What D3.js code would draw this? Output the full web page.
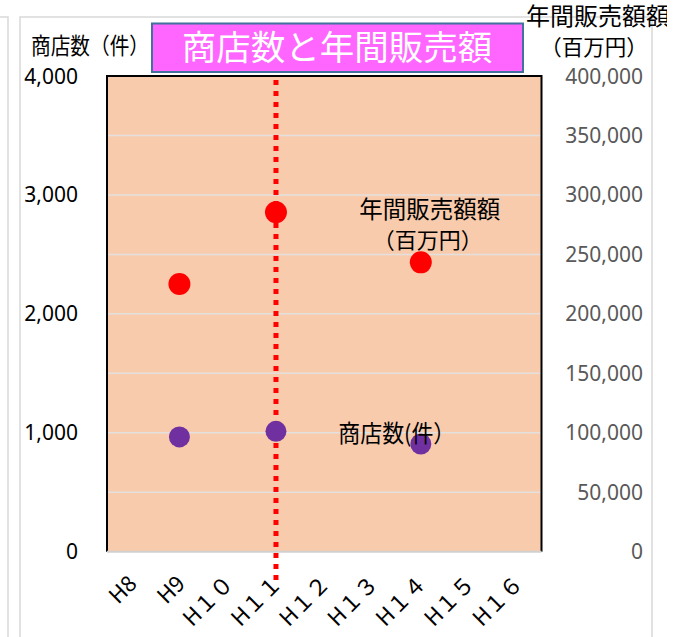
<!DOCTYPE html>
<html>
<head>
<meta charset="utf-8">
<script src="https://cdn.jsdelivr.net/npm/d3@7"></script>
<style>
  body { margin: 0; background: #fff; }
  text { font-family: "Noto Sans CJK JP", "Noto Sans", sans-serif; }
  .num { font-family: "Noto Sans", sans-serif; }
  .jp { font-weight: 400; }
</style>
</head>
<body>
<div class="chart"></div>
<script>
// data
var categories = ['H8', 'H9', 'H１０', 'H１１', 'H１２', 'H１３', 'H１４', 'H１５', 'H１６'];
var pointYears = ['H9', 'H１１', 'H１４'];
var storeCounts = [965, 1012, 906];          // 商店数(件)
var salesValues = [225100, 285400, 243300];  // 年間販売額(百万円)
var leftTicks = [0, 1000, 2000, 3000, 4000];
var rightTicks = [0, 50000, 100000, 150000, 200000, 250000, 300000, 350000, 400000];
var markerYear = 'H１１';

var W = 684, H = 637;
var plot = {left: 107, right: 541.5, top: 76, bottom: 551.7};

var svg = d3.select('.chart')
  .append('svg')
  .attr('width', W)
  .attr('height', H);

// outer chart frames
svg.append('path')
  .attr('d', 'M0,17H8V' + H)
  .attr('fill', 'none')
  .attr('stroke', '#d9d9d9')
  .attr('stroke-width', 1.5);
svg.append('rect')
  .attr('x', 20).attr('y', 17)
  .attr('width', 632).attr('height', H)
  .attr('fill', '#fff')
  .attr('stroke', '#d9d9d9')
  .attr('stroke-width', 1.5);

var xScale = d3.scaleBand()
  .domain(categories)
  .range([plot.left, plot.right]);

var yLeft = d3.scaleLinear()
  .domain([0, 4000])
  .range([plot.bottom, plot.top]);

var yRight = d3.scaleLinear()
  .domain([0, 400000])
  .range([plot.bottom, plot.top]);

var cx = (c) => xScale(c) + xScale.bandwidth() / 2;

// plot background
svg.append('rect')
  .attr('x', plot.left).attr('y', plot.top)
  .attr('width', plot.right - plot.left)
  .attr('height', plot.bottom - plot.top)
  .attr('fill', '#f8cbad');

// gridlines
svg.append('g')
  .selectAll('line')
  .data(rightTicks.slice(1, -1))
  .enter()
  .append('line')
  .attr('x1', plot.left).attr('x2', plot.right)
  .attr('y1', (d) => yRight(d)).attr('y2', (d) => yRight(d))
  .attr('stroke', '#e4e0de')
  .attr('stroke-width', 1.5);

// plot border (top, left, right black; bottom gray axis)
svg.append('path')
  .attr('d', 'M' + plot.left + ',' + plot.bottom + 'V' + plot.top + 'H' + plot.right + 'V' + plot.bottom)
  .attr('fill', 'none')
  .attr('stroke', '#000')
  .attr('stroke-width', 2);
svg.append('line')
  .attr('x1', plot.left).attr('x2', plot.right)
  .attr('y1', plot.bottom).attr('y2', plot.bottom)
  .attr('stroke', '#d0d0d0')
  .attr('stroke-width', 2);

// left axis labels
svg.append('g')
  .selectAll('text')
  .data(leftTicks)
  .enter()
  .append('text')
  .attr('class', 'num')
  .attr('x', 78)
  .attr('y', (d) => yLeft(d))
  .attr('dy', '0.36em')
  .attr('text-anchor', 'end')
  .attr('font-size', 21)
  .attr('fill', '#000')
  .text((d) => d3.format(',')(d));

// right axis labels
svg.append('g')
  .selectAll('text')
  .data(rightTicks)
  .enter()
  .append('text')
  .attr('class', 'num')
  .attr('x', 643)
  .attr('y', (d) => yRight(d))
  .attr('dy', '0.36em')
  .attr('text-anchor', 'end')
  .attr('font-size', 21)
  .attr('fill', '#595959')
  .text((d) => d3.format(',')(d));

// x labels, rotated
svg.append('g')
  .selectAll('text')
  .data(categories)
  .enter()
  .append('text')
  .attr('transform', (d) => 'translate(' + (cx(d) + 7) + ',' + 585 + ') rotate(-45)')
  .attr('text-anchor', 'end')
  .attr('font-size', 22)
  .attr('fill', '#000')
  .text((d) => d);

// dotted marker line
svg.append('line')
  .attr('x1', cx(markerYear)).attr('x2', cx(markerYear))
  .attr('y1', yLeft(4000) + 4).attr('y2', yLeft(0) + 32)
  .attr('stroke', '#ff0000')
  .attr('stroke-width', 5)
  .attr('stroke-dasharray', '5,6');

// points
svg.append('g')
  .selectAll('circle')
  .data(pointYears)
  .enter()
  .append('circle')
  .attr('cx', (d) => cx(d))
  .attr('cy', (d, i) => yRight(salesValues[i]))
  .attr('r', 11)
  .attr('fill', '#ff0000');

svg.append('g')
  .selectAll('circle')
  .data(pointYears)
  .enter()
  .append('circle')
  .attr('cx', (d) => cx(d))
  .attr('cy', (d, i) => yLeft(storeCounts[i]))
  .attr('r', 10.5)
  .attr('fill', '#7030a0');

// series labels
var last = pointYears.length - 1;
svg.append('text')
  .attr('class', 'jp')
  .attr('x', cx(pointYears[last]) + 9)
  .attr('y', yRight(salesValues[last]) - 53)
  .attr('dy', '0.35em')
  .attr('text-anchor', 'middle')
  .attr('font-size', 23.5)
  .text('年間販売額額');
svg.append('text')
  .attr('class', 'jp')
  .attr('x', cx(pointYears[last]) + 7)
  .attr('y', yRight(salesValues[last]) - 22)
  .attr('dy', '0.35em')
  .attr('text-anchor', 'middle')
  .attr('font-size', 22)
  .text('（百万円）');
svg.append('text')
  .attr('class', 'jp')
  .attr('x', cx(pointYears[last]) - 24)
  .attr('y', yLeft(storeCounts[last]) - 10)
  .attr('dy', '0.35em')
  .attr('text-anchor', 'middle')
  .attr('font-size', 23.5)
  .attr('textLength', 117)
  .attr('lengthAdjust', 'spacingAndGlyphs')
  .text('商店数(件）');

// axis titles
svg.append('text')
  .attr('class', 'jp')
  .attr('x', 31).attr('y', 46)
  .attr('dy', '0.35em')
  .attr('font-size', 22.5)
  .attr('textLength', 118)
  .attr('lengthAdjust', 'spacingAndGlyphs')
  .text('商店数（件）');

svg.append('clipPath')
  .attr('id', 'clipR')
  .append('rect')
  .attr('x', 500).attr('y', 0).attr('width', 167).attr('height', 40);
svg.append('text')
  .attr('class', 'jp')
  .attr('x', 526).attr('y', 17)
  .attr('dy', '0.35em')
  .attr('font-size', 24)
  .attr('clip-path', 'url(#clipR)')
  .text('年間販売額額');
svg.append('text')
  .attr('class', 'jp')
  .attr('x', 594).attr('y', 47)
  .attr('dy', '0.35em')
  .attr('text-anchor', 'middle')
  .attr('font-size', 21.5)
  .text('（百万円）');

// title box
svg.append('rect')
  .attr('x', 152).attr('y', 23.5)
  .attr('width', 371).attr('height', 48.5)
  .attr('fill', '#ff66ff')
  .attr('stroke', '#41719c')
  .attr('stroke-width', 2);
svg.append('text')
  .attr('x', 337).attr('y', 48)
  .attr('dy', '0.35em')
  .attr('text-anchor', 'middle')
  .attr('font-size', 34.5)
  .attr('fill', '#fff')
  .text('商店数と年間販売額');
</script>
</body>
</html>
